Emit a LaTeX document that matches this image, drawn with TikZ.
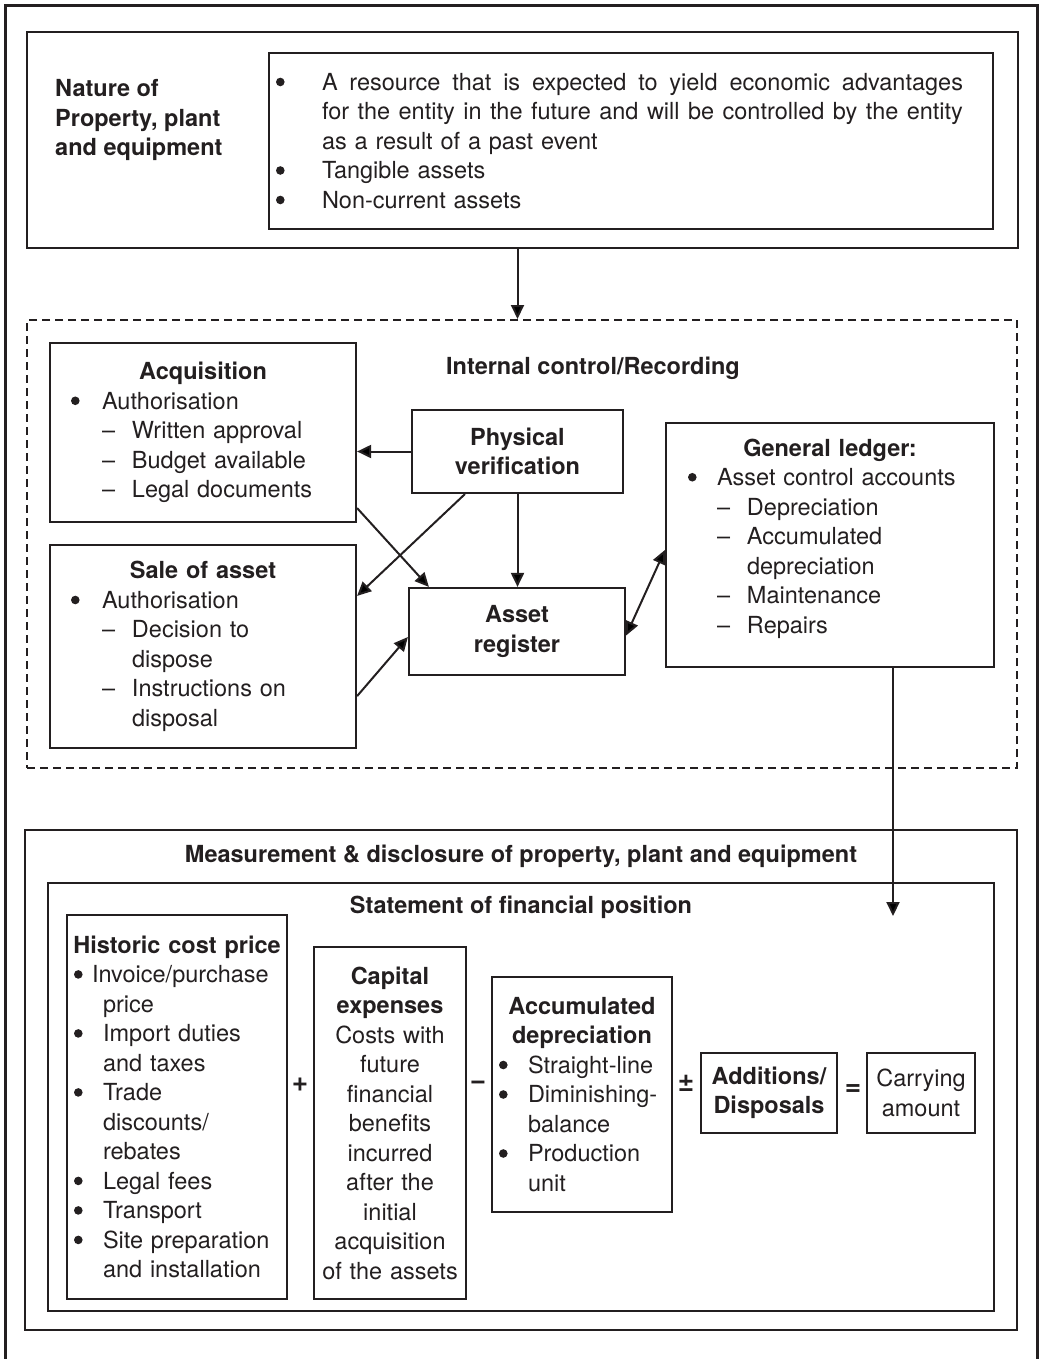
\documentclass[tikz,border=0pt]{standalone}
\usepackage{fontspec}
\setmainfont{TeX Gyre Heros}
\usetikzlibrary{arrows.meta}
\definecolor{ink}{HTML}{231F20}
% list helpers: round bullet, centred bold heading, bullet item, dash sub-item, indent, justified line
\newcommand\bul{\tikz[baseline=-8.4pt]\fill[ink] (0,0) circle (4.3pt);}
\newcommand\hdr[1]{\makebox[\hsize][c]{\bfseries #1}}
\newcommand\itm[2][31pt]{\makebox[#1][l]{\bul}#2}
\newcommand\dsh[2][31pt]{\hspace*{#1}\makebox[30pt][l]{–}#2}
\newcommand\indt[1]{\hspace*{#1}}
\newcommand\jline[1]{\hbox to 641pt{\spaceskip=0pt\xspaceskip=0pt\relax #1}}
\begin{document}
\begin{tikzpicture}[x=1pt,y=-1pt,
  every node/.style={font=\fontsize{23.5}{29.5}\selectfont, text=ink},
  box/.style={draw=ink, line width=2.2pt, rectangle, inner sep=0pt},
  dbox/.style={draw=ink, line width=2pt, rectangle, inner sep=0pt, dash pattern=on 8pt off 5pt},
  arr/.style={draw=ink, line width=2pt, -{Triangle[length=14pt,width=13pt]}},
  darr/.style={draw=ink, line width=2pt, {Triangle[length=14pt,width=13pt]}-{Triangle[length=14pt,width=13pt]}},
  title/.style={font=\fontsize{23.5}{29.5}\selectfont\bfseries, inner sep=0pt},
  op/.style={font=\fontsize{28}{29.5}\selectfont\bfseries, inner sep=0pt}]
\useasboundingbox (0,0) rectangle (1042,1359);

% open outer frame
\draw[ink, line width=3.5pt] (5.5,1359) -- (5.5,5.5) -- (1037.5,5.5) -- (1037.5,1359);

% ---- Nature of PPE ----
\node[box, minimum width=991pt, minimum height=216pt] (nature) at (522.5,140) {};
\node[anchor=west, align=left, inner sep=0pt, font=\fontsize{23.5}{29.5}\selectfont\bfseries] (nathd) at (55,120)
  {Nature of\\Property, plant\\and equipment};
\node[box, minimum width=724pt, minimum height=176pt, text width=710pt, align=left] (natlist) at (631,141)
  {\itm[46pt]{\jline{A resource that is expected to yield economic advantages}}\\
   \indt{46pt}\jline{for the entity in the future and will be controlled by the entity}\\
   \indt{46pt}as a result of a past event\\
   \itm[46pt]{Tangible assets}\\
   \itm[46pt]{Non-current assets}};

% ---- Internal control / recording ----
\node[dbox, minimum width=990pt, minimum height=448pt] (ic) at (522,544) {};
\node[title] (ictitle) at (593,368) {Internal control/Recording};

\node[box, minimum width=306pt, minimum height=179pt, text width=264pt, align=left] (acq) at (203,432.5)
  {\hdr{Acquisition}\\
   \itm{Authorisation}\\
   \dsh{Written approval}\\
   \dsh{Budget available}\\
   \dsh{Legal documents}};

\node[box, minimum width=306pt, minimum height=203pt, text width=264pt, align=left] (sale) at (203,646.5)
  {\hdr{Sale of asset}\\
   \itm{Authorisation}\\
   \dsh{Decision to}\\
   \indt{61pt}dispose\\
   \dsh{Instructions on}\\
   \indt{61pt}disposal};

\node[box, minimum width=211pt, minimum height=83pt, align=center, font=\fontsize{23.5}{29.5}\selectfont\bfseries] (pv) at (517.5,451.5)
  {Physical\\verification};

\node[box, minimum width=216pt, minimum height=87pt, align=center, font=\fontsize{23.5}{29.5}\selectfont\bfseries] (ar) at (517,631.5)
  {Asset\\register};

\node[box, minimum width=328pt, minimum height=244pt, text width=284pt, align=left] (gl) at (830,545)
  {\hdr{General ledger:}\\
   \itm[29pt]{Asset control accounts}\\
   \dsh[29pt]{Depreciation}\\
   \dsh[29pt]{Accumulated}\\
   \indt{59pt}depreciation\\
   \dsh[29pt]{Maintenance}\\
   \dsh[29pt]{Repairs}\par\vspace*{13pt}};

% ---- Measurement & disclosure ----
\node[box, line width=2pt, minimum width=992pt, minimum height=500pt] (meas) at (521,1080) {};
\node[title] (meastitle) at (521,856) {Measurement \& disclosure of property, plant and equipment};
\node[box, line width=2pt, minimum width=946pt, minimum height=428pt] (st) at (521,1097) {};
\node[title] (sttitle) at (521,907) {Statement of financial position};

\node[box, minimum width=220pt, minimum height=384pt, text width=206pt, align=left] (hc) at (177,1107)
  {\hdr{Historic cost price}\\
   \itm[18pt]{Invoice/purchase}\\
   \indt{29pt}price\\
   \itm[29pt]{Import duties}\\
   \indt{29pt}and taxes\\
   \itm[29pt]{Trade}\\
   \indt{29pt}discounts/\\
   \indt{29pt}rebates\\
   \itm[29pt]{Legal fees}\\
   \itm[29pt]{Transport}\\
   \itm[29pt]{Site preparation}\\
   \indt{29pt}and installation};

\node[op] (plus) at (300,1085) {+};

\node[box, minimum width=152pt, minimum height=352pt, text width=146pt, align=center] (ce) at (390,1123)
  {\textbf{Capital}\\\textbf{expenses}\\Costs with\\future\\financial\\benefits\\incurred\\after the\\initial\\acquisition\\of the assets};

\node[op] (minus) at (478,1085) {−};

\node[box, minimum width=180pt, minimum height=235pt, text width=166pt, align=left] (ad) at (582,1094.5)
  {\hdr{Accumulated}\\
   \hdr{depreciation}\\
   \itm[29pt]{Straight-line}\\
   \itm[29pt]{Diminishing-}\\
   \indt{29pt}balance\\
   \itm[29pt]{Production}\\
   \indt{29pt}unit};

\node[op] (pm) at (686,1083) {±};

\node[box, minimum width=136pt, minimum height=80pt, align=center, font=\fontsize{23.5}{29.5}\selectfont\bfseries] (adds) at (769,1093)
  {Additions/\\Disposals};

\node[op] (eq) at (853,1090) {=};

\node[box, minimum width=108pt, minimum height=80pt, align=center] (ca) at (921,1093)
  {Carrying\\amount};

% ---- connectors ----
\draw[arr] (nature.south -| pv.center) -- (ic.north -| pv.center);
\draw[arr] (pv.west) -- (pv.west -| acq.east);
\draw[arr] ([xshift=54pt]pv.south west) -- ([yshift=-52pt]sale.north east);
\draw[arr] (pv.south) -- (pv.south |- ar.north);
\draw[arr] ([yshift=15pt]acq.south east) -- ([xshift=21pt]ar.north west);
\draw[arr] ([yshift=53pt]sale.south east) -- ([yshift=-5.5pt]ar.west);
\draw[darr] ([yshift=-4pt]ar.east) -- ([yshift=-5pt]gl.west);
\coordinate (glend) at (893,916);
\draw[arr] (gl.south -| glend) -- (glend);
\end{tikzpicture}
\end{document}
